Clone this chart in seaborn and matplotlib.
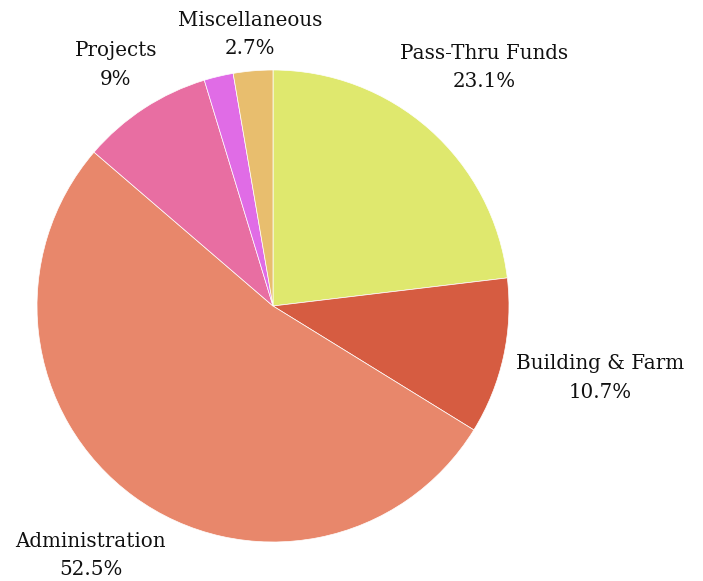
import numpy as np
import matplotlib
matplotlib.use("Agg")
import matplotlib.pyplot as plt
import seaborn as sns

categories = ["Pass-Thru Funds", "Building & Farm", "Administration", "Projects", "", "Miscellaneous"]
values = [23.1, 10.7, 52.5, 9, 2.0, 2.7]
colors = ["#dfe86e", "#d65c41", "#e8876b", "#e86ea2", "#e06ce6", "#e8be6e"]
show_label = [True, True, True, True, False, True]

sns.set_theme(style="white")
plt.rcParams["font.family"] = ["DejaVu Serif", "DejaVu Sans"]

W, H = 703, 581
cx, cy, R = 273, 306, 236
fig = plt.figure(figsize=(W / 100, H / 100), dpi=100)
ax = fig.add_axes([0, 0, 1, 1])

palette = sns.color_palette(colors)
wedges, _ = ax.pie(values, colors=palette, startangle=90, counterclock=False,
                   radius=1, wedgeprops=dict(edgecolor="white", linewidth=0.5))

label_dist = [1.35, 1.42, 1.31, 1.22, 1.2, 1.155]
for w, name, v, show, d in zip(wedges, categories, values, show_label, label_dist):
    if not show:
        continue
    ang = np.deg2rad((w.theta1 + w.theta2) / 2)
    x, y = d * np.cos(ang), d * np.sin(ang)
    ax.text(x, y, f"{name}\n{v:g}%", ha="center", va="center", fontsize=14.3,
            linespacing=1.62, color="#111111")

ax.set_xlim(-cx / R, (W - cx) / R)
ax.set_ylim(-(H - cy) / R, cy / R)
ax.set_aspect("equal")
ax.axis("off")
fig.savefig("out.png", dpi=100)
